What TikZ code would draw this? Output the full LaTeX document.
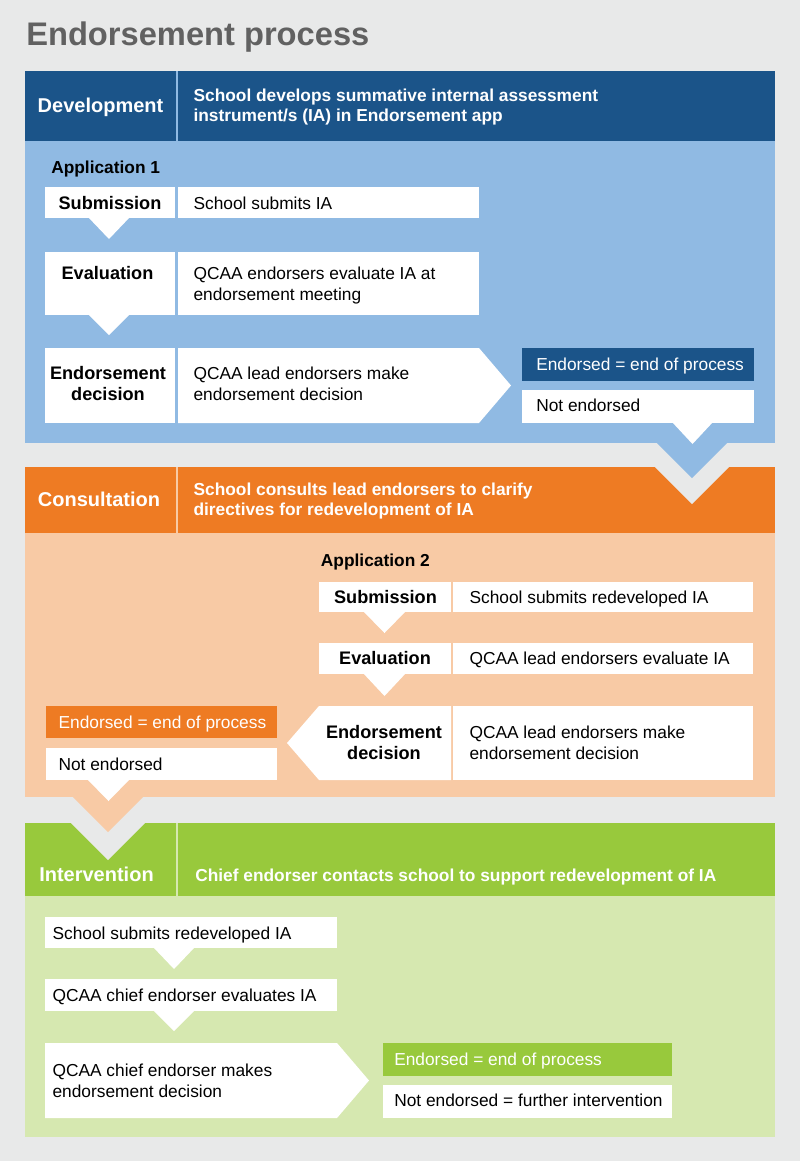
\documentclass[tikz,border=0pt]{standalone}
\usepackage{fontspec}
\setmainfont{Liberation Sans}
\definecolor{bggray}{HTML}{E8E9E9}
\definecolor{titlegray}{HTML}{616161}
\definecolor{dblue}{HTML}{1B5489}
\definecolor{lblue}{HTML}{90BAE3}
\definecolor{dorange}{HTML}{EE7B23}
\definecolor{lorange}{HTML}{F8CAA5}
\definecolor{dgreen}{HTML}{98C93C}
\definecolor{lgreen}{HTML}{D6E8B0}
\newcommand\myfbody{\fontsize{13}{15.75}\selectfont}
\newcommand\myfbold{\fontsize{13}{15.75}\selectfont\bfseries}
\newcommand\myflbl{\fontsize{13.6}{15.75}\selectfont\bfseries}
\newcommand\myfhsub{\fontsize{13}{15}\selectfont\bfseries}
\newcommand\myfhead{\fontsize{15}{18}\selectfont\bfseries}
\newcommand\myftitle{\fontsize{24.5}{29}\selectfont\bfseries}
\tikzset{
  txt/.style={inner sep=0pt, font=\myfbody, anchor=base west, align=left, text=black},
  wtxt/.style={txt, text=white},
  lbl/.style={inner sep=0pt, font=\myflbl, anchor=base, align=center, text=black},
  apptxt/.style={inner sep=0pt, font=\myfbold, anchor=base west, text=black},
  htxt/.style={inner sep=0pt, font=\myfhead, anchor=base, text=white},
  hsub/.style={inner sep=0pt, font=\myfhsub, anchor=base west, align=left, text=white},
  ttl/.style={inner sep=0pt, font=\myftitle, anchor=base west, text=titlegray},
  divider/.style={line width=1.5pt}
}
\begin{document}
\begin{tikzpicture}[x=0.75pt,y=-0.75pt]
\fill[bggray] (0,0) rectangle (800,1161);
\useasboundingbox (0,0) rectangle (800,1161);
\node[ttl] (title) at (26,45) {Endorsement process};

% ---------------- Development ----------------
\fill[dblue] (25,71) rectangle (775,141);
\draw[divider, lblue] (176.5,71) -- (176.5,141);
\fill[lblue] (25,141) rectangle (775,443);
% Consultation header (drawn here so the chevron overlaps it)
\fill[dorange] (25,467) rectangle (775,533);
\draw[divider, lorange] (176.5,467) -- (176.5,533);
\fill[bggray] (654,466) -- (730,466) -- (692,504) -- cycle;
\fill[lblue] (656,442) -- (728,442) -- (692,478) -- cycle;

% multi-line nodes are placed by the baseline of their last line
\node[htxt] (devh) at (100.5,112.7) {Development};
\node[hsub] (devd) at (193.3,121.7) {School develops summative internal assessment\\instrument/s (IA) in Endorsement app};
\node[apptxt] (app1) at (51,173.3) {Application 1};

\fill[white] (45,187) rectangle (175,218);
\fill[white] (178,187) rectangle (479,218);
\fill[white] (88,217) -- (130,217) -- (109,239) -- cycle;
\node[lbl] (sub1) at (110,209.3) {Submission};
\node[txt] (sub1t) at (193.3,209.3) {School submits IA};

\fill[white] (45,252) rectangle (175,315);
\fill[white] (178,252) rectangle (479,315);
\fill[white] (88,314) -- (130,314) -- (109,335) -- cycle;
\node[lbl] (eva1) at (107.5,279) {Evaluation};
\node[txt] (eva1t) at (193.3,300) {QCAA endorsers evaluate IA at\\endorsement meeting};

\fill[white] (45,348) rectangle (175,423);
\fill[white] (178,348) -- (479,348) -- (511,385.5) -- (479,423) -- (178,423) -- cycle;
\node[lbl] (dec1) at (108,400.5) {Endorsement\\decision};
\node[txt] (dec1t) at (193.3,400.5) {QCAA lead endorsers make\\endorsement decision};

\fill[dblue] (522,348) rectangle (754,381);
\node[wtxt] (end1) at (536,370) {Endorsed = end of process};
\fill[white] (522,390) rectangle (754,423);
\node[txt] (not1) at (536,411.7) {Not endorsed};
\fill[white] (672,422) -- (713,422) -- (692.5,444) -- cycle;

% ---------------- Consultation ----------------
\node[htxt] (conh) at (99,506.7) {Consultation};
\node[hsub] (cond) at (193.3,515) {School consults lead endorsers to clarify\\directives for redevelopment of IA};
\fill[lorange] (25,533) rectangle (775,797);
% Intervention header (drawn here so the chevron overlaps it)
\fill[dgreen] (25,823) rectangle (775,896);
\draw[divider, lgreen] (176.5,823) -- (176.5,896);
\fill[bggray] (70,822) -- (146,822) -- (108,860) -- cycle;
\fill[lorange] (72,796) -- (144,796) -- (108,832) -- cycle;

\node[apptxt] (app2) at (320.7,566.7) {Application 2};

\fill[white] (319,582) rectangle (451,612);
\fill[white] (453,582) rectangle (753,612);
\fill[white] (363,611) -- (406,611) -- (384.5,633) -- cycle;
\node[lbl] (sub2) at (385.5,603.3) {Submission};
\node[txt] (sub2t) at (469.3,603.3) {School submits redeveloped IA};

\fill[white] (319,643) rectangle (451,674);
\fill[white] (453,643) rectangle (753,674);
\fill[white] (363,673) -- (406,673) -- (384.5,696) -- cycle;
\node[lbl] (eva2) at (385,664.3) {Evaluation};
\node[txt] (eva2t) at (469.3,664.3) {QCAA lead endorsers evaluate IA};

\fill[white] (319,706) -- (451,706) -- (451,780) -- (319,780) -- (287,743) -- cycle;
\fill[white] (453,706) rectangle (753,780);
\node[lbl] (dec2) at (384,759.5) {Endorsement\\decision};
\node[txt] (dec2t) at (469.3,759.5) {QCAA lead endorsers make\\endorsement decision};

\fill[dorange] (46,706) rectangle (277,738);
\node[wtxt] (end2) at (58.3,728.3) {Endorsed = end of process};
\fill[white] (46,748) rectangle (277,780);
\node[txt] (not2) at (58.3,770) {Not endorsed};
\fill[white] (87,779) -- (130,779) -- (108.5,801) -- cycle;

% ---------------- Intervention ----------------
\node[htxt] (inth) at (96.5,881.7) {Intervention};
\node[hsub] (intd) at (195,881.7) {Chief endorser contacts school to support redevelopment of IA};
\fill[lgreen] (25,896) rectangle (775,1137);

\fill[white] (45,917) rectangle (337,948);
\fill[white] (153,947) -- (195,947) -- (174,969) -- cycle;
\node[txt] (sub3) at (52.3,939) {School submits redeveloped IA};

\fill[white] (45,979) rectangle (337,1011);
\fill[white] (153,1010) -- (195,1010) -- (174,1031) -- cycle;
\node[txt] (eva3) at (52.3,1001) {QCAA chief endorser evaluates IA};

\fill[white] (45,1043) -- (337,1043) -- (369,1080.5) -- (337,1118) -- (45,1118) -- cycle;
\node[txt] (dec3) at (52.3,1097) {QCAA chief endorser makes\\endorsement decision};

\fill[dgreen] (383,1043) rectangle (672,1076);
\node[wtxt] (end3) at (394,1065) {Endorsed = end of process};
\fill[white] (383,1085) rectangle (672,1118);
\node[txt] (not3) at (394,1106.7) {Not endorsed = further intervention};
\end{tikzpicture}
\end{document}
